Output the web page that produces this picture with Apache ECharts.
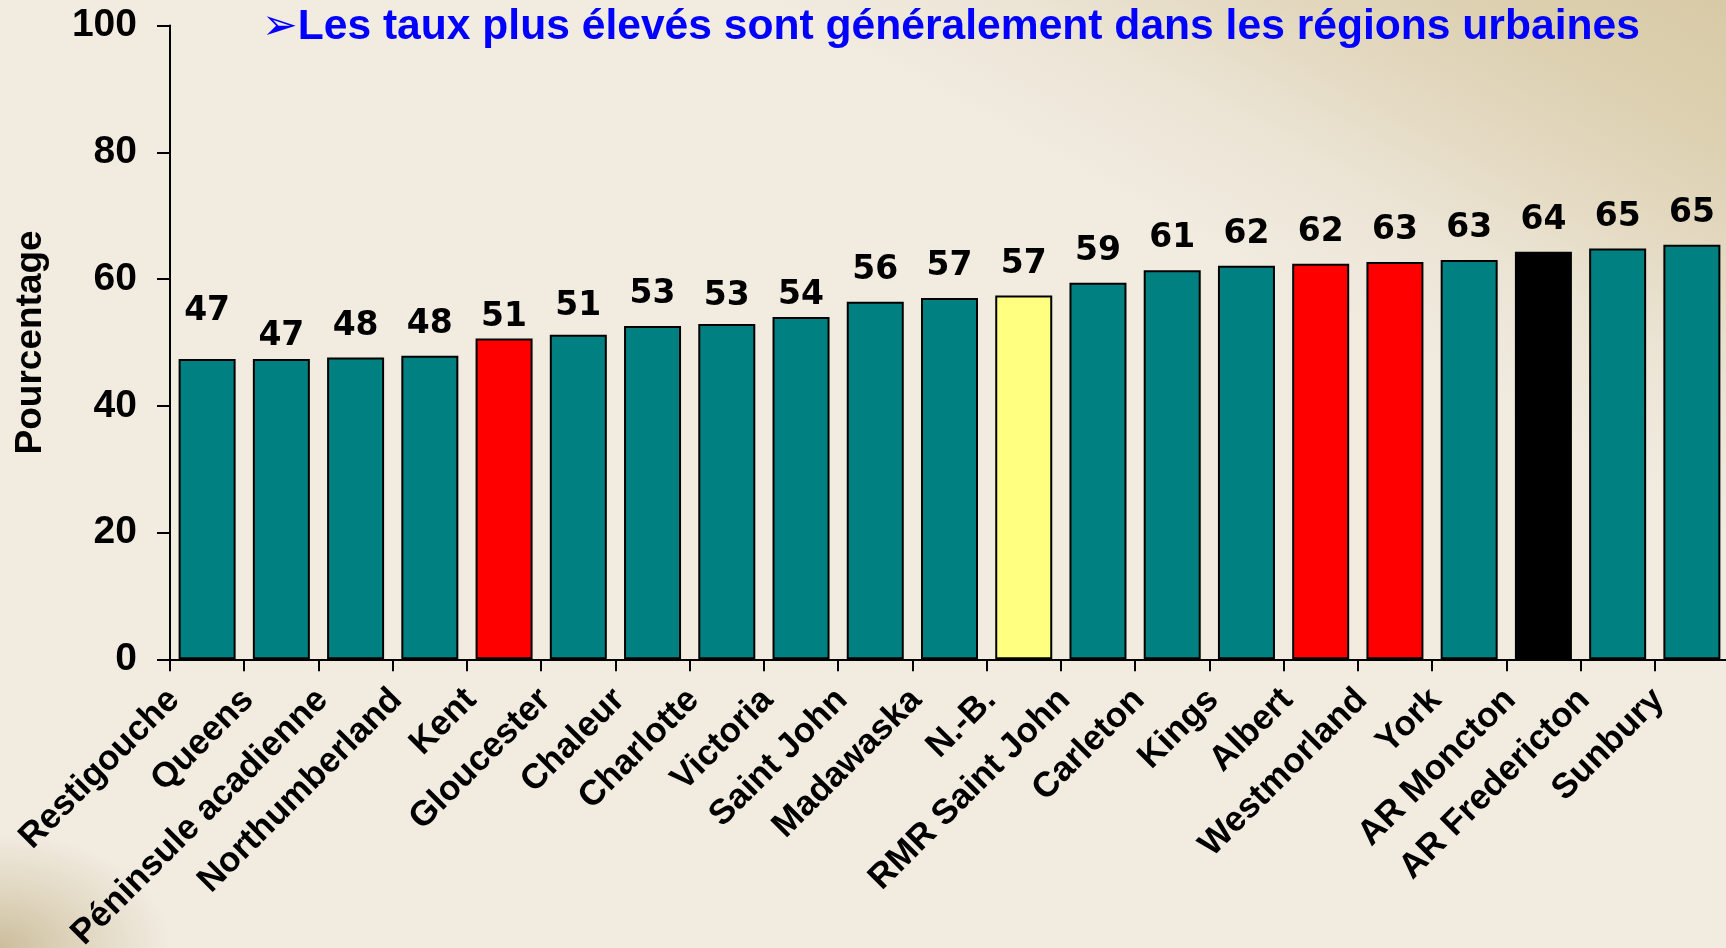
<!DOCTYPE html>
<html lang="fr">
<head>
<meta charset="utf-8">
<title>Taux par région</title>
<script src="https://cdn.jsdelivr.net/npm/echarts@6/dist/echarts.min.js"></script>
<style>
  html, body {
    margin: 0;
    padding: 0;
    width: 1726px;
    height: 948px;
    overflow: hidden;
  }
  body {
    background:
      radial-gradient(ellipse 170px 115px at 0 100%, rgba(200, 184, 148, 0.9) 0%, rgba(214, 202, 172, 0.6) 50%, rgba(241, 235, 224, 0) 100%),
      linear-gradient(to bottom left, #D8CAA6 0%, #DDD1B2 8%, #E5DBC4 15%, #ECE5D6 21%, rgba(241, 235, 224, 0) 28%),
      #F1EBE0;
  }
  #chart { width: 1726px; height: 948px; }
</style>
</head>
<body>
<div id="chart"></div>
<script>
// Regions, ordered from lowest to highest rate
const categories = [
  'Restigouche', 'Queens', 'Péninsule acadienne', 'Northumberland', 'Kent',
  'Gloucester', 'Chaleur', 'Charlotte', 'Victoria', 'Saint John', 'Madawaska',
  'N.-B.', 'RMR Saint John', 'Carleton', 'Kings', 'Albert', 'Westmorland',
  'York', 'AR Moncton', 'AR Fredericton', 'Sunbury'
];

// Rate (%) for each region
const values = [
  47.4, 47.4, 47.6, 47.9, 50.6,
  51.2, 52.6, 52.9, 54.0, 56.4, 57.0,
  57.4, 59.4, 61.4, 62.1, 62.4, 62.7,
  63.0, 64.3, 64.8, 65.4
];

// Value axis ticks
const yTicks = [0, 20, 40, 60, 80, 100];

const titleText = '\u27A2Les taux plus élevés sont généralement dans les régions urbaines';
const yAxisTitle = 'Pourcentage';

// Bar colours: teal by default, with highlighted regions
const TEAL = '#008080';
const highlight = {
  'Kent': '#FF0000',
  'Albert': '#FF0000',
  'Westmorland': '#FF0000',
  'N.-B.': '#FFFF80',
  'AR Moncton': '#000000'
};

// Distance of the value label above its bar
const LABEL_DISTANCE = 15;
const labelDistanceFor = {
  'Restigouche': 31,
  'Queens': 6,
  'Kent': 5,
  'Gloucester': 12,
  'Charlotte': 11,
  'Victoria': 5
};

const FONT = '"Liberation Sans", Arial, "DejaVu Sans", sans-serif';
const VALUE_FONT = '"DejaVu Sans", Verdana, sans-serif';

const seriesData = categories.map((name, i) => ({
  value: values[i],
  itemStyle: { color: highlight[name] || TEAL },
  label: { distance: labelDistanceFor[name] !== undefined ? labelDistanceFor[name] : LABEL_DISTANCE }
}));

const chart = echarts.init(document.getElementById('chart'), null, { renderer: 'canvas' });

chart.setOption({
  backgroundColor: 'transparent',
  animation: false,
  title: {
    text: titleText,
    left: 262,
    top: 6,
    padding: 0,
    textStyle: {
      color: '#0000FF',
      fontFamily: FONT,
      fontWeight: 'bold',
      fontSize: 42.6,
      lineHeight: 42
    }
  },
  grid: {
    left: 170,
    right: -3,
    top: 25.5,
    bottom: 288.7,
    containLabel: false,
    outerBoundsMode: 'none'
  },
  xAxis: {
    type: 'category',
    data: categories,
    boundaryGap: true,
    axisLine: { show: true, lineStyle: { color: '#000', width: 2 } },
    axisTick: { show: true, alignWithLabel: false, length: 12, lineStyle: { color: '#000', width: 2 } },
    axisLabel: {
      interval: 0,
      rotate: 45,
      margin: 2,
      padding: [0, 47, 0, 0],
      color: '#000',
      fontFamily: FONT,
      fontWeight: 'bold',
      fontSize: 35
    },
    splitLine: { show: false }
  },
  yAxis: {
    type: 'value',
    min: yTicks[0],
    max: yTicks[yTicks.length - 1],
    interval: yTicks[1] - yTicks[0],
    name: yAxisTitle,
    nameLocation: 'middle',
    nameRotate: 90,
    nameGap: 121,
    nameTextStyle: {
      color: '#000',
      fontFamily: FONT,
      fontWeight: 'bold',
      fontSize: 37
    },
    axisLine: { show: true, lineStyle: { color: '#000', width: 2 } },
    axisTick: { show: true, inside: false, length: 13, lineStyle: { color: '#000', width: 2 } },
    axisLabel: {
      margin: 33,
      color: '#000',
      fontFamily: FONT,
      fontWeight: 'bold',
      fontSize: 39
    },
    splitLine: { show: false }
  },
  series: [{
    type: 'bar',
    data: seriesData,
    barWidth: 57,
    itemStyle: { borderColor: '#000', borderWidth: 2 },
    label: {
      show: true,
      position: 'top',
      color: '#000',
      fontFamily: VALUE_FONT,
      fontWeight: 'bold',
      fontSize: 33,
      formatter: p => String(Math.round(p.value))
    }
  }]
});
</script>
</body>
</html>
